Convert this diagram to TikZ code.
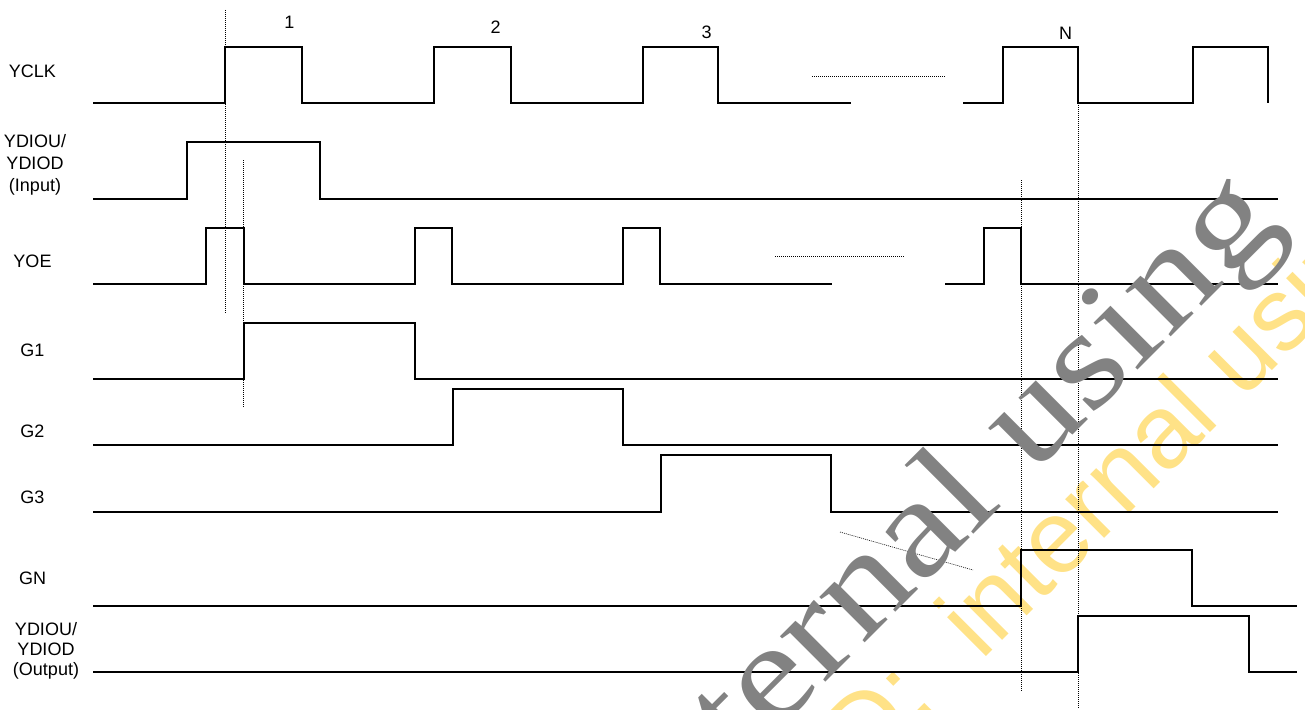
\documentclass[tikz,border=0pt]{standalone}
\usepackage{fontspec}
\setmainfont{Liberation Sans}
\newfontfamily\wmserif{Liberation Serif}
\usepackage{xcolor}
\definecolor{wmgray}{RGB}{130,130,130}
\definecolor{wmyellow}{RGB}{255,226,135}

\begin{document}
\begin{tikzpicture}[x=1pt, y=-1pt]
  \tikzstyle{wave}=[line width=1.3pt, line join=miter, black];
  \tikzstyle{guide}=[line width=0.6pt, dash pattern=on 1pt off 1pt, black];
  \tikzstyle{sigtext}=[draw=none, text=black, align=center, inner sep=0pt,
    font=\fontsize{18}{22}\selectfont];
  %
  \useasboundingbox (0, 0) rectangle (1305, 709);
  \clip (0, 0) rectangle (1305, 709);
  %
  % watermark, yellow
  \node[draw=none, text=wmyellow, anchor=base west, rotate=45, inner sep=0pt,
    font=\fontsize{104}{104}\selectfont] (wmyel) at (865, 778)
    { D:\hspace{0.3em} internal using };
  %
  % YCLK
  \draw[wave] (93, 103) -- ++(132, 0) -- ++(0, -56) -- ++(77, 0) -- ++(0, 56)
  -- ++(132, 0) -- ++(0, -56) -- ++(77, 0) -- ++(0, 56) -- ++(132, 0)
  -- ++(0, -56) -- ++(75, 0) -- ++(0, 56) -- ++(133, 0);
  \draw[wave] (963, 103) -- ++(40, 0) -- ++(0, -56) -- ++(75, 0) -- ++(0, 56)
  -- ++(115, 0) -- ++(0, -56) -- ++(75, 0) -- ++(0, 56);
  \draw[guide] (812, 76) -- (946, 76);
  \node[sigtext] (lblyclk) at (35, 71.5) { YCLK };
  \node[sigtext] (pulse1) at (292, 22) { 1 };
  \node[sigtext] (pulse2) at (498, 27) { 2 };
  \node[sigtext] (pulse3) at (709, 32) { 3 };
  \node[sigtext] (pulseN) at (1068, 33) { N };
  %
  % YDIOU/YDIOD input
  \draw[wave] (93, 199) -- ++(94, 0) -- ++(0, -57) -- ++(133, 0) -- ++(0, 57)
  -- ++(958, 0);
  \node[sigtext] (lbldin) at (35, 165) { YDIOU/\\YDIOD\\(Input) };
  %
  % YOE
  \draw[wave] (93, 284) -- ++(113, 0) -- ++(0, -56) -- ++(38, 0) -- ++(0, 56)
  -- ++(171, 0) -- ++(0, -56) -- ++(37, 0) -- ++(0, 56) -- ++(171, 0)
  -- ++(0, -56) -- ++(37, 0) -- ++(0, 56) -- ++(172, 0);
  \draw[wave] (945, 284) -- ++(39, 0) -- ++(0, -56) -- ++(37, 0) -- ++(0, 56)
  -- ++(257, 0);
  \draw[guide] (775, 256) -- (905, 256);
  \node[sigtext] (lblyoe) at (35, 261.5) { YOE };
  %
  % gate lines
  \draw[wave] (93, 379) -- ++(151, 0) -- ++(0, -56) -- ++(171, 0) -- ++(0, 56)
  -- ++(863, 0);
  \node[sigtext] (lblg1) at (35, 350) { G1 };
  \draw[wave] (93, 445) -- ++(360, 0) -- ++(0, -56) -- ++(170, 0) -- ++(0, 56)
  -- ++(655, 0);
  \node[sigtext] (lblg2) at (35, 431) { G2 };
  \draw[wave] (93, 512) -- ++(568, 0) -- ++(0, -57) -- ++(170, 0) -- ++(0, 57)
  -- ++(447, 0);
  \node[sigtext] (lblg3) at (35, 497.5) { G3 };
  \draw[guide] (840, 532) -- (973, 570);
  \draw[wave] (93, 606) -- ++(928, 0) -- ++(0, -56) -- ++(171, 0) -- ++(0, 56)
  -- ++(105, 0);
  \node[sigtext] (lblgn) at (35, 578.5) { GN };
  %
  % YDIOU/YDIOD output
  \draw[wave] (93, 672) -- ++(985, 0) -- ++(0, -56) -- ++(171, 0) -- ++(0, 56)
  -- ++(48, 0);
  \node[sigtext, font=\fontsize{18}{20}\selectfont] (lbldout) at (46, 651)
    { YDIOU/\\YDIOD\\(Output) };
  %
  % timing guides
  \draw[guide] (225, 10) -- (225, 313);
  \draw[guide] (243, 160) -- (243, 408);
  \draw[guide] (1021, 180) -- (1021, 692);
  \draw[guide] (1078, 103) -- (1078, 709);
  %
  % watermark, grey
  \node[draw=none, text=wmgray, anchor=base west, rotate=45, inner sep=0pt,
    font=\wmserif\fontsize{140}{140}\selectfont] (wmgrey) at (650, 858)
    { \scalebox{1.17}[1]{internal using} };
\end{tikzpicture}
\end{document}
